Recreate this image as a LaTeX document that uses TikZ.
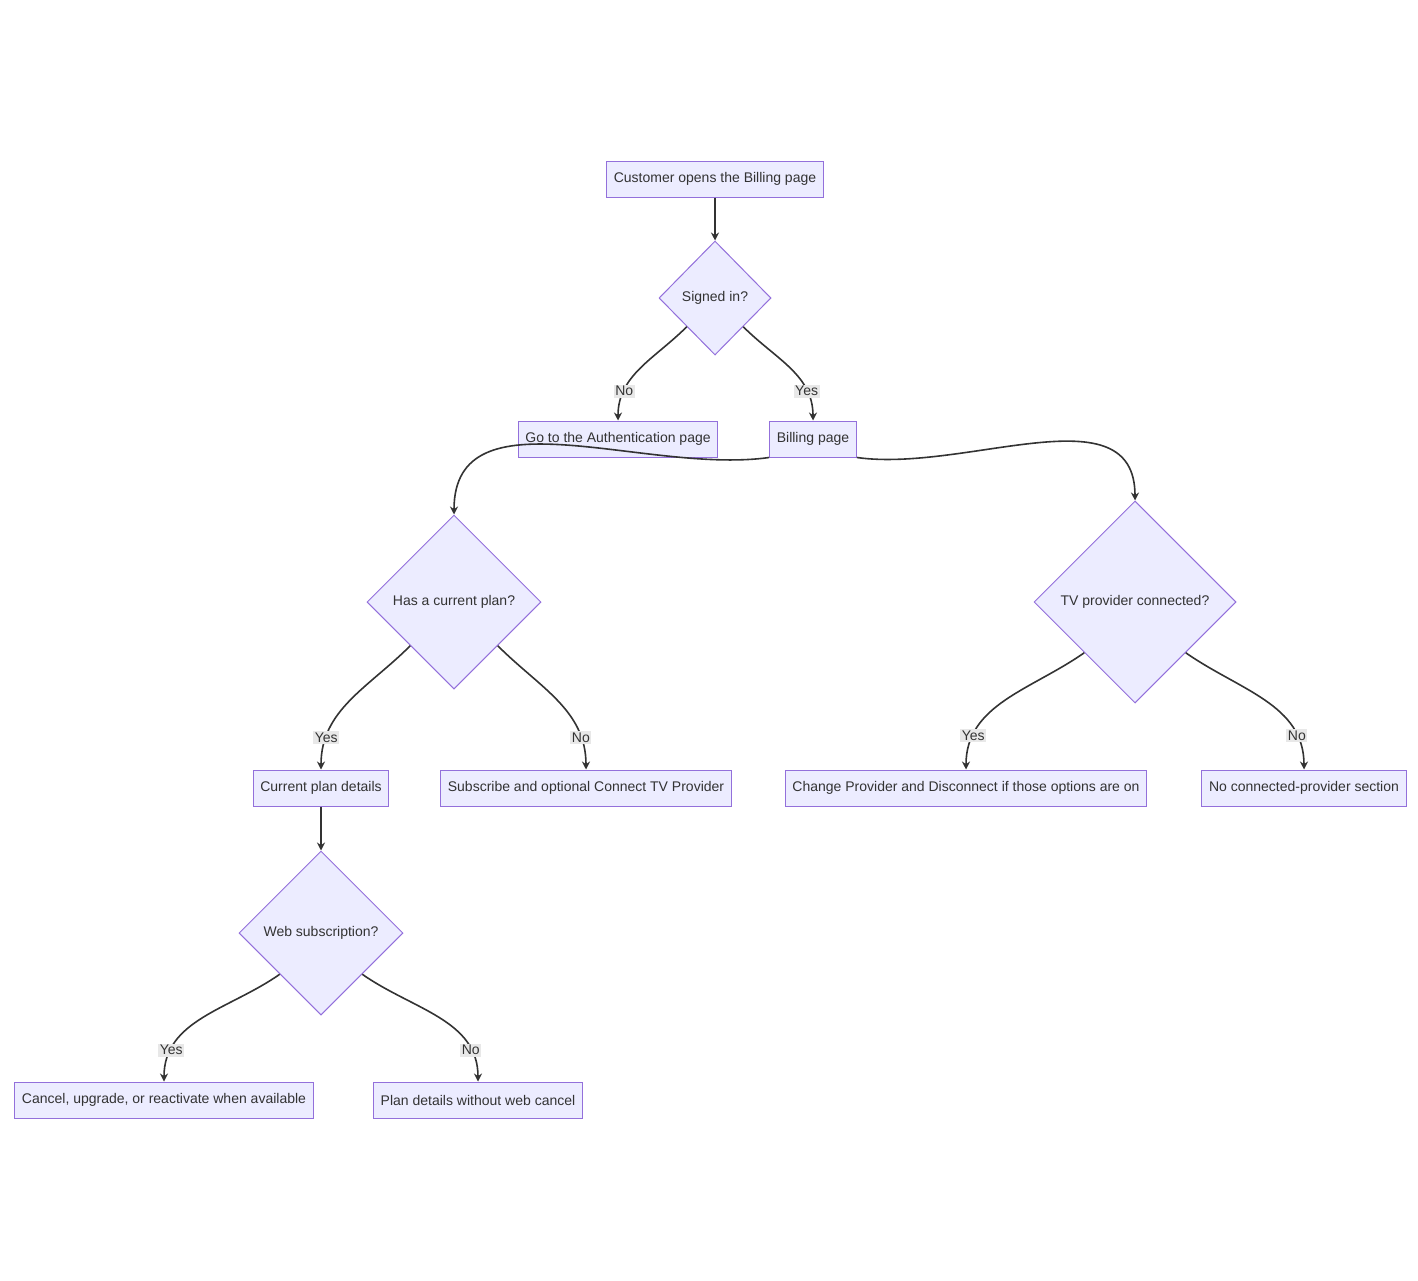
\documentclass[tikz,border=0pt]{standalone}
\usepackage{fontspec}
\setmainfont{Liberation Sans}
\usetikzlibrary{shapes.geometric,arrows.meta}
\definecolor{boxfill}{HTML}{ECECFF}
\definecolor{boxline}{HTML}{9370DB}
\definecolor{edge}{HTML}{333333}
\definecolor{lblbg}{HTML}{E8E8E8}
\tikzset{
  box/.style={draw=boxline,fill=boxfill,line width=0.5pt,minimum height=18pt,inner xsep=3.6pt,font=\fontsize{7}{8}\selectfont,text=edge},
  ask/.style={draw=boxline,fill=boxfill,line width=0.5pt,shape=diamond,inner sep=0pt,font=\fontsize{7}{8}\selectfont,text=edge},
  flow/.style={draw=edge,line width=0.8pt,-{Stealth[length=4pt,width=4pt]}},
  lbl/.style={fill=lblbg,inner sep=0.8pt,font=\fontsize{7}{8}\selectfont,text=edge}
}
\begin{document}
\begin{tikzpicture}[x=0.5pt,y=-0.5pt]
\useasboundingbox (0,0) rectangle (1418,1280);
% boxes
\node[box] (open) at (715,179) {Customer opens the Billing page};
\node[ask,minimum width=56pt,minimum height=57pt] (signed) at (715,298) {Signed in?};
\node[box] (auth) at (618,439) {Go to the Authentication page};
\node[box] (billing) at (813,439) {Billing page};
\node[ask,minimum width=87pt,minimum height=87pt] (plan) at (454,602) {Has a current plan?};
\node[ask,minimum width=101pt,minimum height=101pt] (tv) at (1135,602) {TV provider connected?};
\node[box] (details) at (321,788) {Current plan details};
\node[box] (subscribe) at (586,788) {Subscribe and optional Connect TV Provider};
\node[box] (change) at (966,788) {Change Provider and Disconnect if those options are on};
\node[box] (noprov) at (1304,788) {No connected-provider section};
\node[ask,minimum width=82pt,minimum height=82pt] (web) at (321,933) {Web subscription?};
\node[box] (cancel) at (164,1100) {Cancel, upgrade, or reactivate when available};
\node[box] (nocancel) at (478,1100) {Plan details without web cancel};
% connectors
\draw[flow] (open) -- (signed);
\draw[flow] (signed.south west) to[out=-135,in=90] node[lbl,pos=0.75] {No} (auth.north);
\draw[flow] (signed.south east) to[out=-45,in=90] node[lbl,pos=0.75] {Yes} (billing.north);
\draw[flow] (billing.south west) to[out=188,in=90] (plan.north);
\draw[flow] (billing.south east) to[out=-8,in=90] (tv.north);
\draw[flow] (plan.south west) to[out=-135,in=90] node[lbl,pos=0.8] {Yes} (details.north);
\draw[flow] (plan.south east) to[out=-45,in=90] node[lbl,pos=0.8] {No} (subscribe.north);
\draw[flow] (tv.south west) to[out=-145,in=90] node[lbl,pos=0.8] {Yes} (change.north);
\draw[flow] (tv.south east) to[out=-35,in=90] node[lbl,pos=0.8] {No} (noprov.north);
\draw[flow] (details) -- (web);
\draw[flow] (web.south west) to[out=-145,in=90] node[lbl,pos=0.8] {Yes} (cancel.north);
\draw[flow] (web.south east) to[out=-35,in=90] node[lbl,pos=0.8] {No} (nocancel.north);
\end{tikzpicture}
\end{document}
